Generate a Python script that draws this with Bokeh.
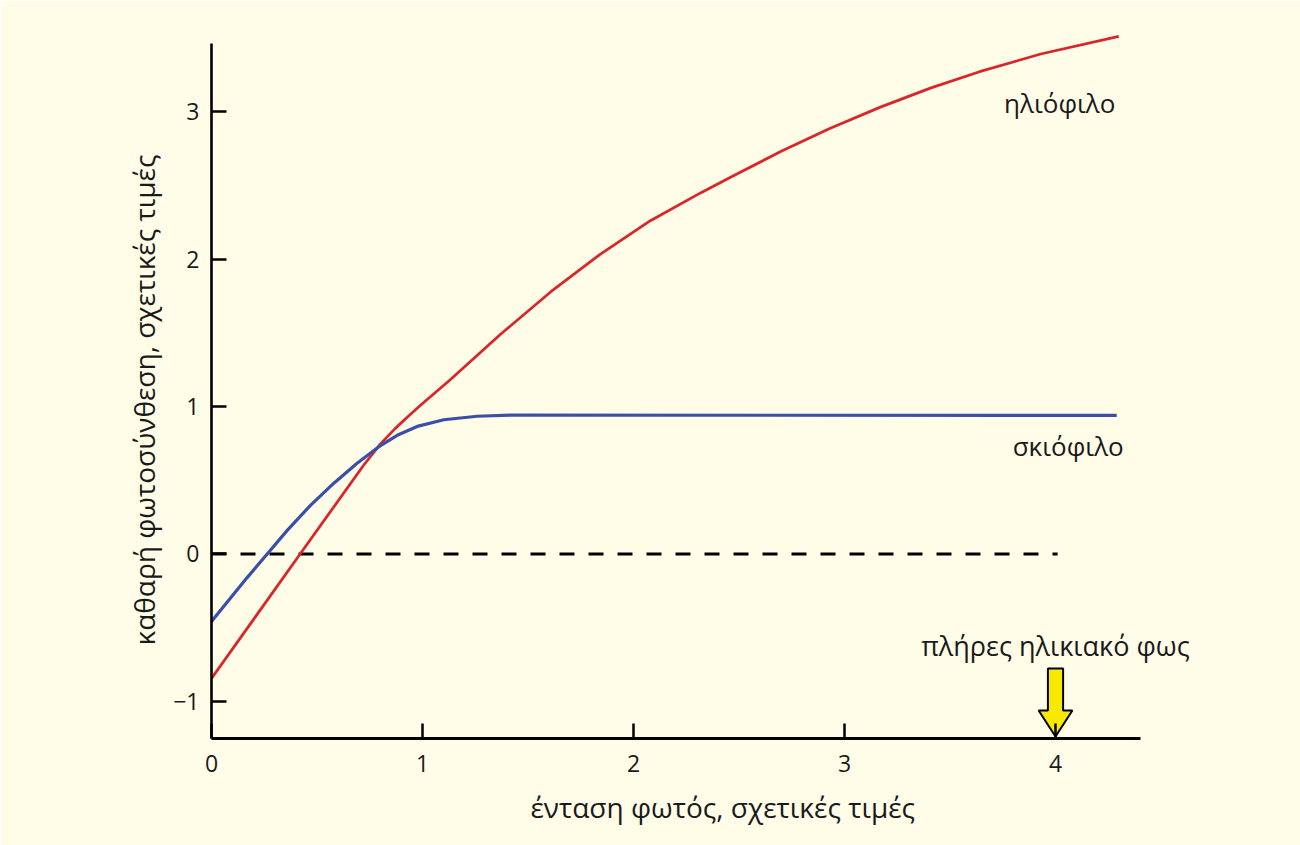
from bokeh.plotting import figure
from bokeh.models import Label, FixedTicker, Range1d, Title
from bokeh.embed import file_html
from bokeh.resources import INLINE

# ---- data ----
x_ticks = [0, 1, 2, 3, 4]
y_ticks = [-1, 0, 1, 2, 3]
y_tick_labels = ["−1", "0", "1", "2", "3"]

sun_x = [0, 0.42, 0.72, 0.80, 0.87, 0.93, 1.00, 1.13, 1.37, 1.61, 1.84, 2.08, 2.32, 2.46, 2.70,
         2.93, 3.17, 3.41, 3.64, 3.93, 4.30]
sun_y = [-0.844, 0.0, 0.60, 0.745, 0.85, 0.93, 1.02, 1.18, 1.49, 1.78, 2.03, 2.26, 2.45, 2.555, 2.73,
         2.885, 3.03, 3.16, 3.27, 3.39, 3.51]

shade_x = [0, 0.169, 0.264, 0.359, 0.469, 0.58, 0.69, 0.801, 0.88, 0.975, 1.101, 1.259, 1.417, 4.29]
shade_y = [-0.458, -0.16, 0.0, 0.16, 0.33, 0.48, 0.615, 0.735, 0.805, 0.865, 0.91, 0.934, 0.941, 0.94]

zero_x = [0, 4.01]
zero_y = [0, 0]

full_sun = 4.0

x_title = "ένταση φωτός, σχετικές τιμές"
y_title = "καθαρή φωτοσύνθεση, σχετικές τιμές"
sun_label = "ηλιόφιλο"
shade_label = "σκιόφιλο"
full_sun_label = "πλήρες ηλικιακό φως"

BG = "#FFFDE8"
FONT = "Open Sans"
TXT = "#1a1a1a"

p = figure(width=1300, height=845, output_backend="svg", toolbar_location=None,
           x_range=Range1d(0, 5.1137), y_range=Range1d(-1.251, 3.685),
           min_border_left=211, min_border_right=10, min_border_top=10, min_border_bottom=107)
p.background_fill_color = BG
p.border_fill_color = BG
p.outline_line_color = None
p.grid.visible = False

for ax in (p.xaxis[0], p.yaxis[0]):
    ax.axis_line_width = 2.6
    ax.axis_line_color = "black"
    ax.major_tick_in = 15
    ax.major_tick_out = 0
    ax.major_tick_line_width = 2.5
    ax.major_tick_line_color = "black"
    ax.minor_tick_line_color = None
    ax.major_label_text_font = FONT
    ax.major_label_text_font_size = "23px"
    ax.major_label_text_color = TXT

p.xaxis[0].ticker = FixedTicker(ticks=x_ticks)
p.yaxis[0].ticker = FixedTicker(ticks=y_ticks)
p.yaxis[0].major_label_overrides = {t: s for t, s in zip(y_ticks, y_tick_labels)}
p.xaxis[0].bounds = (0, 4.403)
p.yaxis[0].bounds = (-1.251, 3.46)
p.xaxis[0].major_label_standoff = 16
p.yaxis[0].major_label_standoff = 12
p.xaxis[0].axis_line_width = 3

p.add_layout(Title(text=x_title, text_font=FONT, text_font_size="28px", text_font_style="normal",
                   text_color=TXT, align="left", offset=319, standoff=22), "below")
p.add_layout(Title(text=y_title, text_font=FONT, text_font_size="28px", text_font_style="normal",
                   text_color=TXT, align="left", offset=93, standoff=15), "left")

p.line(zero_x, zero_y, line_color="black", line_width=2.8, line_dash="15 14")
p.line(sun_x, sun_y, line_color="#d9262b", line_width=2.8)
p.line(shade_x, shade_y, line_color="#3c4fa8", line_width=3.2)

# yellow arrow at full sunlight
tip, head_base, top = -1.237, -1.061, -0.776
hs, hh = 0.036, 0.08
ax_ = [full_sun - hs, full_sun + hs, full_sun + hs, full_sun + hh, full_sun, full_sun - hh, full_sun - hs]
ay_ = [top, top, head_base, head_base, tip, head_base, head_base]
p.patch(ax_, ay_, fill_color="#f7ea00", line_color="black", line_width=2)

def lab(x, y, t, size="26px"):
    p.add_layout(Label(x=x, y=y, text=t, text_font=FONT, text_font_size=size,
                       text_color=TXT, text_align="center", text_baseline="middle"))

lab(4.02, 3.06, sun_label)
lab(4.06, 0.735, shade_label)
lab(4.0, -0.62, full_sun_label, "27px")

open("out.html", "w").write(file_html(p, INLINE))
